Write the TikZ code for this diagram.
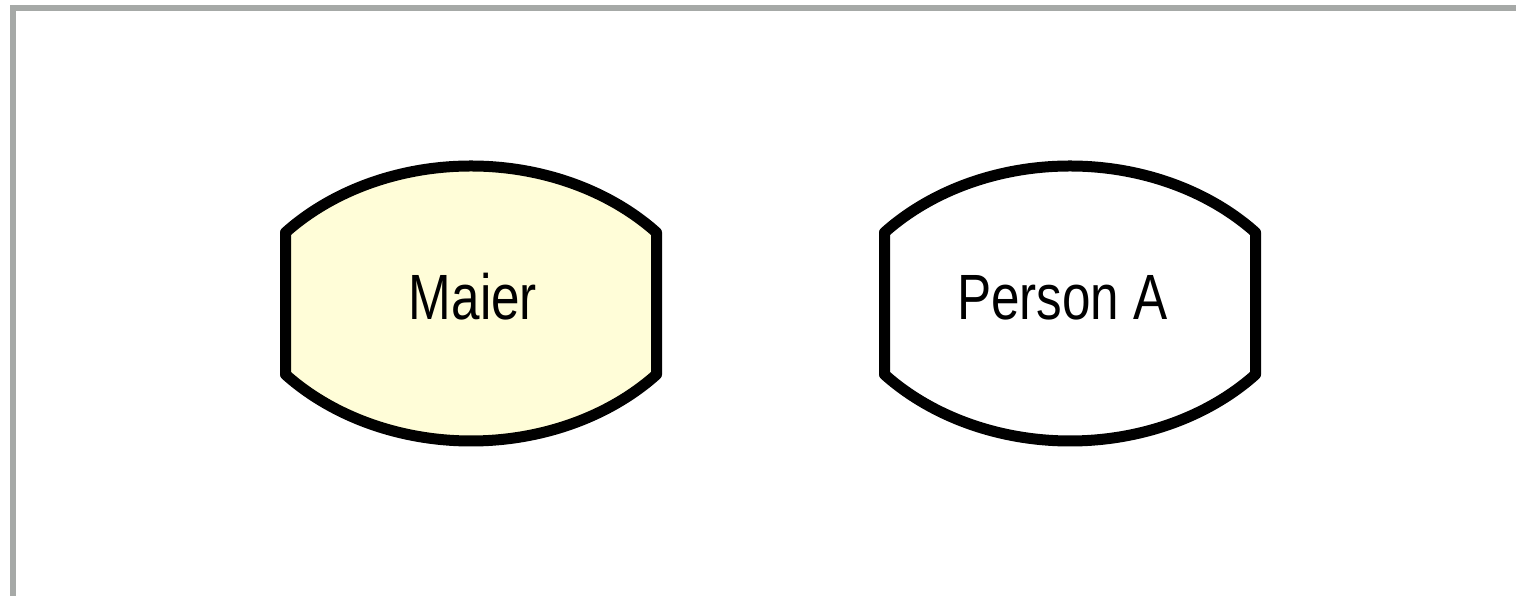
\documentclass[tikz,border=0pt]{standalone}
\usepackage{fontspec}
\setmainfont{Liberation Sans}
\usepackage{graphicx}
\definecolor{framegray}{HTML}{A6A9A7}
\definecolor{lightyellow}{HTML}{FFFDD8}
\tikzset{
  frameline/.style={draw=framegray, line width=6pt},
  lensborder/.style={draw=black, line width=11pt, line join=round},
  lbl/.style={anchor=base, inner sep=0pt, font=\fontsize{64}{70}\selectfont},
  pics/lens/.style={code={
    \path[lensborder,#1]
      (-185.5,71) .. controls (-138.1,113.3) and (-70.7,137.5) .. (0,137.5)
      .. controls (70.7,137.5) and (138.1,113.3) .. (185.5,71)
      -- (185.5,-71)
      .. controls (138.1,-113.3) and (70.7,-137.5) .. (0,-137.5)
      .. controls (-70.7,-137.5) and (-138.1,-113.3) .. (-185.5,-71)
      -- cycle;
  }}
}
\begin{document}
\begin{tikzpicture}[x=1pt,y=1pt]
\useasboundingbox (0,0) rectangle (1516,596);
\draw[frameline] (12.5,-5) -- (12.5,587.5) -- (1521,587.5);
\coordinate (cmaier) at (471,292.5);
\coordinate (cperson) at (1070,292.5);
\pic at (cmaier) {lens={fill=lightyellow}};
\pic at (cperson) {lens={fill=white}};
\node[lbl] (maier) at (473,276) {\scalebox{0.8}[1]{Maier}};
\node[lbl] (persona) at (1062.5,276) {\scalebox{0.8}[1]{Person A}};
\end{tikzpicture}
\end{document}
